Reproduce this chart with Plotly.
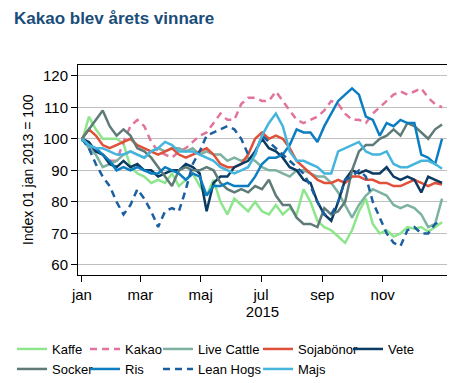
import pandas as pd
import plotly.graph_objects as go

# ---- data (weekly readings, 2015) ----
dates = [d.strftime("%Y-%m-%d") for d in pd.date_range("2015-01-01", periods=53, freq="7D")]

kaffe = [99, 107, 103, 100, 100, 100, 98.5, 91, 89, 88, 86, 87, 86, 89, 85, 87, 89, 85, 82, 87,
         80, 76, 81, 79, 77, 80, 77, 76, 79, 76, 78, 76, 84, 80, 74, 72, 71, 69, 67, 71,
         77, 81, 73, 70, 71, 69, 70, 72, 71.5, 72, 70.5, 72, 73.5]
kakao = [100, 98, 96, 95, 93, 93, 99, 104, 106, 104, 99, 96, 95, 94, 96, 97, 99, 101, 102, 105,
         108, 106, 106, 111, 113, 113, 112, 112, 115, 112, 109, 106, 105, 106, 107, 109, 112, 111, 108, 106,
         106, 105, 108, 110, 112, 114, 115, 114, 115, 116, 113, 111, 110]
live_cattle = [100, 97, 95, 91, 92, 93, 95, 96, 95, 94, 96, 97, 96, 97, 97, 96, 97, 95, 96, 95,
               95, 93, 94, 93, 94, 93, 91, 90, 90, 89, 88, 90, 90, 89, 88, 88, 86, 83, 79, 75,
               79, 82, 84, 83, 82, 79, 78, 79, 78, 76, 72, 73, 81]
sojabonor = [100, 103, 101, 98, 97, 98, 99, 100, 98, 97, 96, 95, 96, 97, 95, 94, 95, 96, 97, 95,
             92, 91, 91, 92, 95, 100, 102, 100, 101, 100, 97, 93, 91, 89, 87, 86, 86, 87, 86, 88,
             88, 87, 87, 86, 86, 85, 85, 86, 87, 86, 85, 86, 85.5]
vete = [100, 99, 96, 95, 92, 91, 93, 91, 92, 90, 90, 88, 89, 90, 90, 92, 91, 89, 77, 86,
        88, 88, 91, 92, 93, 96, 100, 97, 96, 94, 91, 90, 87, 86, 80, 76, 74, 80, 87, 90,
        89, 90, 89, 89, 91, 88, 87, 88, 87, 83, 88, 87, 86]
socker = [100, 103, 106, 109, 104, 101, 103, 101, 97, 96, 94, 91, 88, 85, 90, 91, 90, 90, 91, 90,
          86, 84, 83, 84, 83, 85, 84, 87, 82, 79, 79, 75, 73, 73, 72, 78, 76, 77, 80, 90,
          96, 98, 98, 100, 101, 103, 101, 105, 104, 102, 100, 103, 104.5]
ris = [100, 98, 97, 95, 93, 90, 91, 90, 91, 90, 89, 89, 91, 90, 89, 87, 89, 88, 82, 85,
       85, 86, 85, 85, 85, 88, 92, 94, 94, 95, 98, 103, 102, 102, 99, 104, 108, 112, 114, 116,
       114, 107, 106, 101, 105, 104, 106, 105, 105, 95, 94, 92, 100]
lean_hogs = [100, 97, 92, 88, 85, 80, 76, 79, 84, 81, 77, 72, 77, 78, 77, 84, 92, 96, 101, 102,
             103, 104, 103, 100, 95, 95, 101, 99, 97, 95, 93, 91, 89, 85, 80, 76, 76, 80, 87, 88,
             90, 88, 80, 75, 70, 67, 66, 71, 72, 70, 70, 73, 74]
majs = [100, 98, 97, 97, 96, 95, 95, 96, 95, 94, 96, 97, 99, 98, 96, 96, 96, 95, 94, 93,
        91, 90, 89, 90, 91, 95, 101, 105, 108, 104, 96, 93, 93, 92, 91, 89, 89, 96, 97, 98,
        99, 96, 95, 95, 96, 92, 91, 91, 92, 93, 93, 92, 90.5]

series_names = ["Kaffe", "Kakao", "Live Cattle", "Sojabönor", "Vete",
                "Socker", "Ris", "Lean Hogs", "Majs"]
series_values = [kaffe, kakao, live_cattle, sojabonor, vete, socker, ris, lean_hogs, majs]

tick_dates = ["2015-01-01", "2015-03-01", "2015-05-01", "2015-07-01", "2015-09-01", "2015-11-01"]
tick_labels = ["jan", "mar", "maj", "jul", "sep", "nov"]
y_ticks = [60, 70, 80, 90, 100, 110, 120]

# ---- styling ----
colors = ["#8DE68C", "#E2739D", "#7DB2A2", "#E0503A", "#0B3B63",
          "#5E7B78", "#0B7DC1", "#1A5FA0", "#45B5DE"]
dashes = ["solid", "7px,5px", "solid", "solid", "solid",
          "solid", "solid", "7px,5px", "solid"]
FONT = "Liberation Sans, Arial, sans-serif"

# The page body has an 8px margin, so the figure is drawn 8px smaller
# and every page position below is shifted by that offset.
OFF = 8
W, H = 455 - OFF, 383 - OFF

# legend placement (page px): text start x, row centre y
legend_pos = [(52, 349), (125, 349), (198, 349), (298, 349), (388, 349),
              (52, 369), (125, 369), (198, 369), (298, 369)]

fig = go.Figure()
for i, (name, vals) in enumerate(zip(series_names, series_values)):
    lname = "legend" if i == 0 else f"legend{i + 1}"
    fig.add_trace(go.Scatter(
        x=dates, y=vals, name=name, mode="lines",
        line=dict(color=colors[i], width=2.5, dash=dashes[i]),
        legend=lname, showlegend=True,
    ))

layout_legends = {}
for i, (tx, ty) in enumerate(legend_pos):
    lname = "legend" if i == 0 else f"legend{i + 1}"
    layout_legends[lname] = dict(
        xref="container", yref="container",
        x=(tx - OFF - 40) / W, y=1 - (ty - OFF) / H,
        xanchor="left", yanchor="middle",
        bgcolor="rgba(0,0,0,0)", borderwidth=0,
        font=dict(family=FONT, size=13, color="#000"),
    )

plot_l, plot_r, plot_t, plot_b = 78 - OFF, 447 - OFF, 65 - OFF, 275 - OFF

fig.update_layout(
    width=W, height=H, showlegend=True,
    margin=dict(l=plot_l, r=W - plot_r, t=plot_t, b=H - plot_b, autoexpand=False),
    paper_bgcolor="white", plot_bgcolor="white",
    font=dict(family=FONT, size=15, color="#000"),
    title=dict(text="<b>Kakao blev årets vinnare</b>",
               xref="container", yref="container",
               x=(14 - OFF) / W, xanchor="left", y=1 - (18 - OFF) / H, yanchor="middle",
               font=dict(family=FONT, size=17, color="#1A4D7A")),
    annotations=[dict(
        text="Index 01 jan 2013 = 100", textangle=-90,
        xref="paper", yref="paper",
        x=((28 - OFF) - plot_l) / (plot_r - plot_l), y=0.5,
        xanchor="center", yanchor="middle", showarrow=False,
        font=dict(family=FONT, size=14, color="#000"),
    )],
    **layout_legends,
)

fig.update_xaxes(
    type="date",
    range=["2014-12-28", "2016-01-05"],
    tickmode="array", tickvals=tick_dates, ticktext=tick_labels,
    ticks="outside", ticklen=6, tickcolor="#000", tickwidth=1,
    showline=True, linecolor="#000", linewidth=1, mirror=True,
    showgrid=False, zeroline=False,
    tickfont=dict(family=FONT, size=15, color="#000"),
    title=dict(text="2015", standoff=4, font=dict(family=FONT, size=15, color="#000")),
)
fig.update_yaxes(
    range=[56.8, 123.4],
    tickmode="array", tickvals=y_ticks,
    ticks="outside", ticklen=6, tickcolor="#000", tickwidth=1,
    showline=True, linecolor="#000", linewidth=1, mirror=True,
    showgrid=True, gridcolor="#BFBFBF", gridwidth=1, zeroline=False,
    tickfont=dict(family=FONT, size=15, color="#000"),
)

fig.write_html("out.html")
